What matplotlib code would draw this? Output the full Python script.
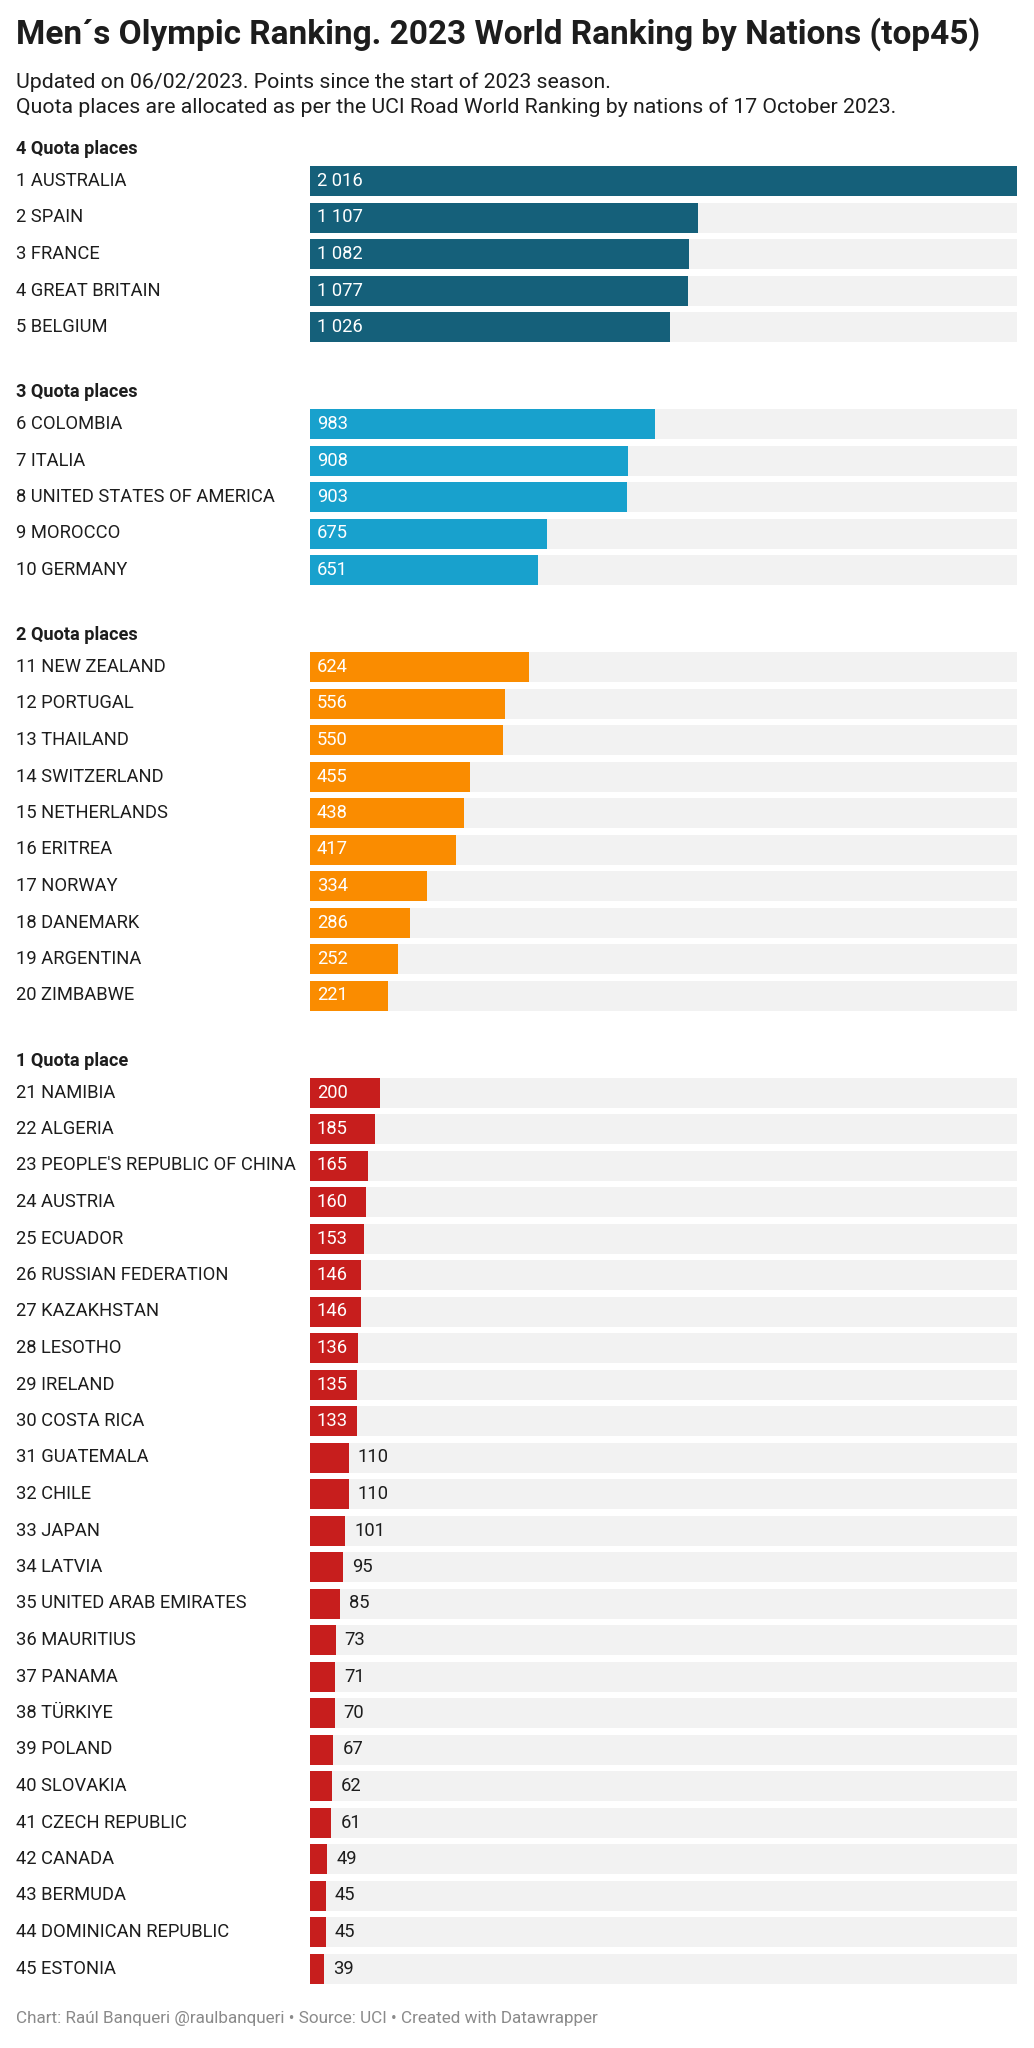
import numpy as np
import matplotlib
matplotlib.use('Agg')
import matplotlib.pyplot as plt
import matplotlib.transforms as mtransforms

# data
countries = ['AUSTRALIA', 'SPAIN', 'FRANCE', 'GREAT BRITAIN', 'BELGIUM',
             'COLOMBIA', 'ITALIA', 'UNITED STATES OF AMERICA', 'MOROCCO', 'GERMANY',
             'NEW ZEALAND', 'PORTUGAL', 'THAILAND', 'SWITZERLAND', 'NETHERLANDS',
             'ERITREA', 'NORWAY', 'DANEMARK', 'ARGENTINA', 'ZIMBABWE',
             'NAMIBIA', 'ALGERIA', "PEOPLE'S REPUBLIC OF CHINA", 'AUSTRIA', 'ECUADOR',
             'RUSSIAN FEDERATION', 'KAZAKHSTAN', 'LESOTHO', 'IRELAND', 'COSTA RICA',
             'GUATEMALA', 'CHILE', 'JAPAN', 'LATVIA', 'UNITED ARAB EMIRATES',
             'MAURITIUS', 'PANAMA', 'TÜRKIYE', 'POLAND', 'SLOVAKIA',
             'CZECH REPUBLIC', 'CANADA', 'BERMUDA', 'DOMINICAN REPUBLIC', 'ESTONIA']
points = [2016, 1107, 1082, 1077, 1026,
          983, 908, 903, 675, 651,
          624, 556, 550, 455, 438, 417, 334, 286, 252, 221,
          200, 185, 165, 160, 153, 146, 146, 136, 135, 133,
          110, 110, 101, 95, 85, 73, 71, 70, 67, 62,
          61, 49, 45, 45, 39]
group_titles = ['4 Quota places', '3 Quota places', '2 Quota places', '1 Quota place']
group_sizes = [5, 5, 10, 25]
group_colors = ['#15607a', '#18a1cd', '#fa8c00', '#c71e1d']

W, H = 1034, 2048
fig = plt.figure(figsize=(W / 100, H / 100), dpi=100)
fig.patch.set_facecolor('white')
plt.rcParams['font.family'] = ['Roboto', 'DejaVu Sans']

x0, x1 = 310, 1017
ax = fig.add_axes([x0 / W, 0, (x1 - x0) / W, 1])
ax.set_xlim(0, max(points))
ax.set_ylim(H, 0)
ax.axis('off')

trans_lab = mtransforms.blended_transform_factory(fig.transFigure, ax.transData)
px = max(points) / (x1 - x0)  # data units per pixel

pitch = 36.5
gap = 60.5
bar_h = 30
i = 0
for g, n in enumerate(group_sizes):
    y_first = 181 + i * pitch + g * gap
    ax.text(16 / W, y_first - 32, group_titles[g], transform=trans_lab,
            fontsize=13.1, fontweight='bold', color='#1d1d1d', va='center')
    for k in range(n):
        y = y_first + k * pitch
        v = points[i]
        ax.barh(y, max(points), height=bar_h, color='#f2f2f2', zorder=1)
        ax.barh(y, v, height=bar_h, color=group_colors[g], zorder=2)
        ax.text(16 / W, y, f'{i + 1} {countries[i]}', transform=trans_lab,
                fontsize=13.2, color='#1d1d1d', va='center')
        lab = f'{v:,}'.replace(',', ' ')
        if v >= 120:
            ax.text(7 * px, y, lab, fontsize=13.2, color='white', va='center', zorder=3)
        else:
            ax.text(v + 9 * px, y, lab, fontsize=13.2, color='#1d1d1d', va='center', zorder=3)
        i += 1

fig.text(16 / W, 1 - 34 / H, 'Men´s Olympic Ranking. 2023 World Ranking by Nations (top45)',
         fontsize=24, fontweight='bold', color='#1d1d1d', va='center')
fig.text(16 / W, 1 - 82 / H, 'Updated on 06/02/2023. Points since the start of 2023 season.',
         fontsize=15.3, color='#1d1d1d', va='center')
fig.text(16 / W, 1 - 107 / H,
         'Quota places are allocated as per the UCI Road World Ranking by nations of 17 October 2023.',
         fontsize=15.3, color='#1d1d1d', va='center')
fig.text(16 / W, 1 - 2019 / H,
         'Chart: Raúl Banqueri @raulbanqueri • Source: UCI • Created with Datawrapper',
         fontsize=12.3, color='#8a8a8a', va='center')

fig.savefig('out.png', dpi=100, facecolor='white')
